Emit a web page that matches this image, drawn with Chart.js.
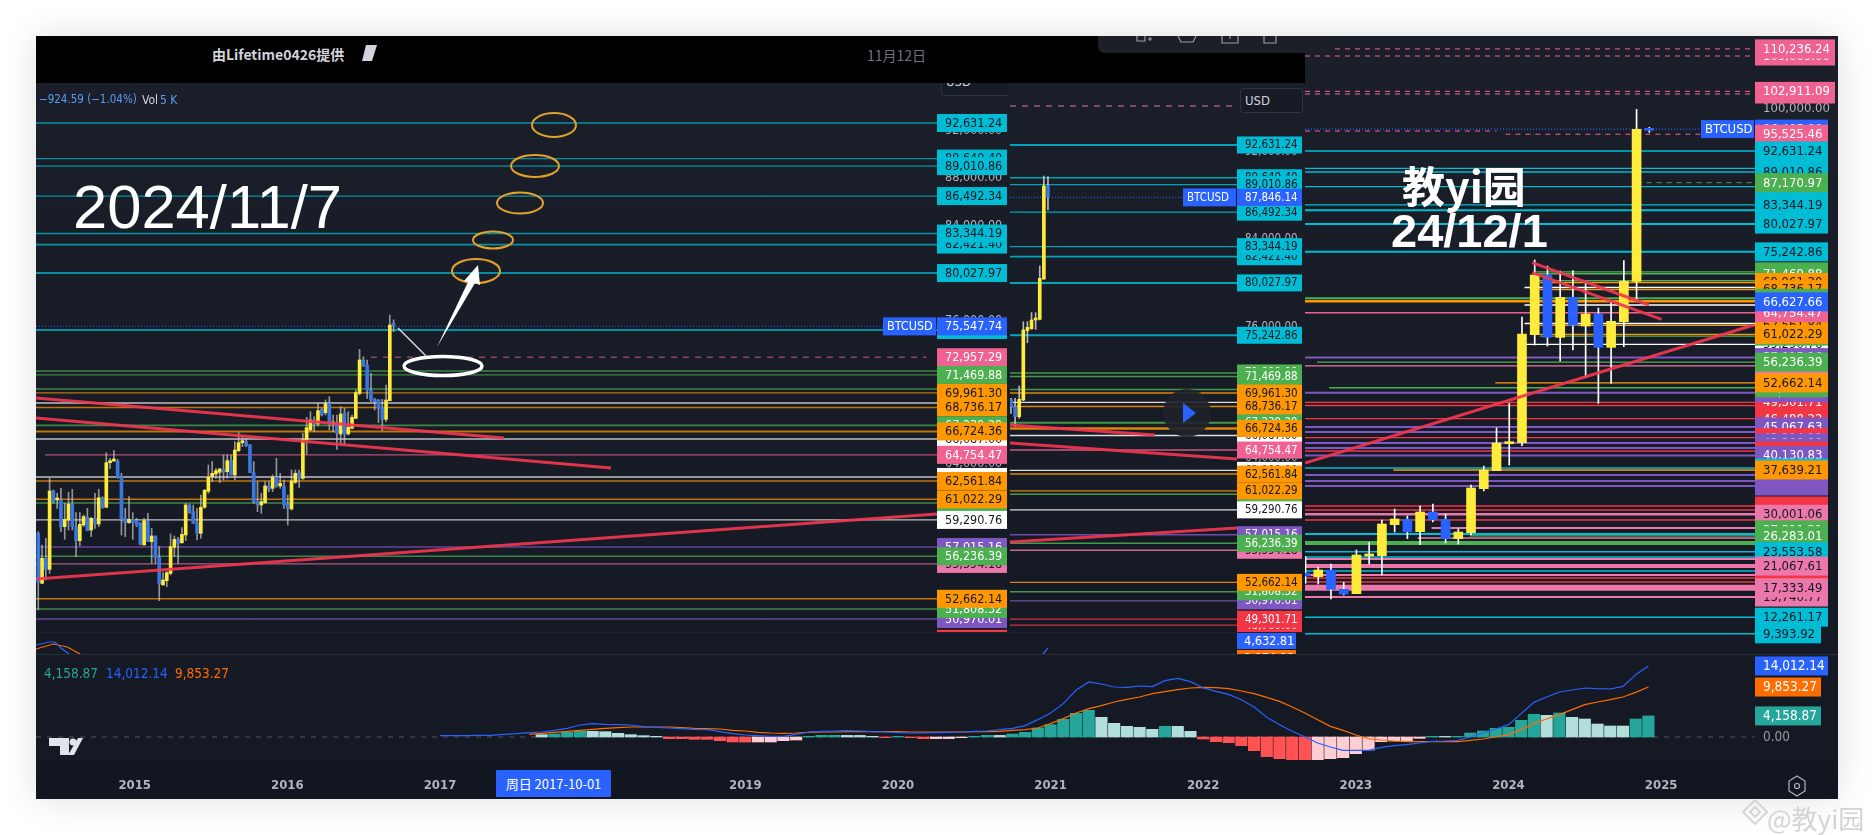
<!DOCTYPE html>
<html lang="en">
<head>
<meta charset="UTF-8">
<title>BTCUSD levels</title>
<style>
    html, body { margin: 0; height: 100%; background: #fff; overflow: hidden; }
    body { font-family: 'DejaVu Sans Condensed', 'DejaVu Sans', sans-serif; }
    .abs { position: absolute; }
    #panel { left: 36px; top: 36px; width: 1802px; height: 763px;
             background: linear-gradient(#1b1f2a, #151924 85%);
             box-shadow: 0 0 34px rgba(0,0,0,.13); }
    #band { left: 36px; top: 36px; width: 1269px; height: 47px; background: #000; }
    #axisband { left: 36px; top: 760px; width: 1802px; height: 39px; background: #121620; }
    #sep1 { left: 36px; top: 654px; width: 1802px; height: 1px; background: #2a2e39; }
    #sep2 { left: 36px; top: 632px; width: 1269px; height: 1px; background: #1f2330; }
    #toolbar { left: 1098px; top: 36px; width: 236px; height: 17px; background: #1c1f26;
               border-radius: 0 0 0 7px; overflow: hidden; }
    canvas { position: absolute; }
    .txt { white-space: nowrap; line-height: 1; }
    .usd { border: 1px solid #2f333e; border-radius: 3px; background: #171b26; color: #d1d4dc;
           font-size: 13px; box-sizing: border-box; overflow: hidden; }
    #strip { left: 1237px; top: 632px; width: 59px; height: 22px; overflow: hidden; }
    #strip div { position: absolute; left: 0; width: 59px; height: 16px; font-size: 12.5px;
                 line-height: 16px; color: #fff; text-indent: 7px; }
    #cross { left: 496px; top: 770px; width: 115px; height: 27px; background: #2962ff; color: #fff;
             font: 13px/27px 'Noto Sans CJK SC', sans-serif; text-align: center; border-radius: 1px; }
</style>
<script src="https://cdn.jsdelivr.net/npm/chart.js"></script>
</head>
<body>
<div id="panel" class="abs"></div>
<div id="band" class="abs"></div>
<div id="axisband" class="abs"></div>

<canvas id="chartA" width="974" height="549" style="left:36px;top:83px"></canvas>
<canvas id="chartB" width="295" height="549" style="left:1010px;top:83px"></canvas>
<canvas id="chartC" width="533" height="618" style="left:1305px;top:36px"></canvas>
<canvas id="chartMacd" width="1802" height="167" style="left:36px;top:632px"></canvas>

<div id="sep1" class="abs"></div>
<div id="sep2" class="abs"></div>

<div class="abs txt" style="left:212px;top:44px;color:#d1d4dc;font:bold 14px 'Noto Sans CJK SC',sans-serif">由Lifetime0426提供</div>
<svg class="abs" style="left:360px;top:42px" width="20" height="20"><polygon points="6,3 17,3 12,19 2,19" fill="#d1d4dc"/></svg>
<div class="abs txt" style="left:867px;top:45px;color:#6f7380;font:14px 'Noto Sans CJK SC',sans-serif">11月12日</div>
<div class="abs txt" style="left:39px;top:94px;font-size:11.5px;color:#5b9cf6">−924.59 (−1.04%)</div>
<div class="abs txt" style="left:142px;top:94px;font-size:12px;color:#d1d4dc">Vol</div>
<div class="abs txt" style="left:160px;top:94px;font-size:12px;color:#5b9cf6">5 K</div>

<div class="abs usd" style="left:941px;top:70px;width:69px;height:26px;clip-path:inset(13px 0 0 0);padding:3px 4px;border-right:0">USD</div>
<div class="abs usd" style="left:1240px;top:88px;width:63px;height:25px;padding:4px">USD</div>

<div class="abs txt" style="left:73px;top:171px;color:#fff;font:61.5px 'Liberation Sans',sans-serif">2024/11/7</div>
<div class="abs txt" style="left:1402px;top:153px;color:#fff;font:bold 43px 'Noto Sans CJK SC',sans-serif">教yi园</div>
<div class="abs txt" style="left:1391px;top:203px;color:#fff;font:bold 47px 'Liberation Sans',sans-serif">24/12/1</div>

<svg class="abs" style="left:0;top:0" width="1874" height="835" fill="none">
    <g stroke="#e2a22a" stroke-width="2">
        <ellipse cx="554" cy="125" rx="22" ry="12"/>
        <ellipse cx="535" cy="166" rx="24" ry="11"/>
        <ellipse cx="520" cy="203" rx="23" ry="10.5"/>
        <ellipse cx="493" cy="240" rx="20" ry="8.5"/>
        <ellipse cx="476" cy="271" rx="24" ry="12"/>
    </g>
    <ellipse cx="443" cy="366" rx="39" ry="9.5" stroke="#fff" stroke-width="3.5"/>
    <polygon points="437,347 468,282 464,281 478,265 480,285 475,283" fill="#fff"/>
    <line x1="398" y1="328" x2="426" y2="356" stroke="#d8d8d8" stroke-width="1.5"/>
    <circle cx="1187" cy="413" r="24" fill="#1f222b" fill-opacity=".9"/>
    <polygon points="1183,403 1196,413 1183,423" fill="#2962ff"/>
    <path d="M49 738h20v17h-9v-9h-11z" fill="#e0e3eb"/>
    <circle cx="73" cy="742" r="3.5" fill="#e0e3eb"/>
    <path d="M78 738h5l-9 17h-6z" fill="#e0e3eb"/>
    <path d="M1797 776l8 5v10l-8 5l-8-5v-10z" stroke="#b2b5be" stroke-width="1.2"/>
    <circle cx="1797" cy="786" r="2.5" stroke="#b2b5be" stroke-width="1.2"/>
    <g stroke="#d4d4d4" stroke-width="1.8">
        <path d="M1743 812l12-12l12 12l-12 12z"/>
        <path d="M1750 812l5-5l5 5l-5 5z"/>
    </g>
</svg>
<div class="abs txt" style="left:1767px;top:799px;color:#d4d4d4;font:26px 'Noto Sans CJK SC',sans-serif">@教yi园</div>

<div id="toolbar" class="abs">
    <svg width="236" height="17" fill="none" stroke="#9a9da6" stroke-width="1.2">
        <path d="M39 0v5h8v-5M50 3h4M52 1v4"/>
        <path d="M80 0l3 6h12l3-6"/>
        <path d="M124 0v7h16v-7M132 0v3"/>
        <path d="M166 0v7h12v-7"/>
    </svg>
</div>

<div id="strip" class="abs">
    <div style="top:1px;background:#2962ff">4,632.81</div>
    <div style="top:18px;background:#ff6d00">9,854.98</div>
</div>

<div class="abs txt" style="left:44px;top:667px;font-size:13.5px;color:#26a69a">4,158.87</div>
<div class="abs txt" style="left:106px;top:667px;font-size:13.5px;color:#2962ff">14,012.14</div>
<div class="abs txt" style="left:175px;top:667px;font-size:13.5px;color:#ff6d00">9,853.27</div>
<div id="cross" class="abs txt">周日 2017-10-01</div>

<script>
// horizontal levels shared by the three price panes
const levelValues = [92631.24, 89640.40, 89010.86, 86492.34, 83344.19, 82421.40, 80027.97, 75242.86,
    71800, 71469.88, 70287, 69961.30, 69111, 68736.17, 67239.29, 66724.36, 66087, 64754.47, 62900,
    62561.84, 61022.29, 60711, 59290.76, 57015.16, 56236.39, 55594.18, 52662.14, 51808.32, 50970.01,
    49301.71, 48760];
const levelKinds = ['cyan', 'cyan', 'cyan', 'cyan', 'cyan', 'cyan', 'cyan', 'cyan',
    'green', 'green', 'green', 'orange', 'white', 'orange', 'green', 'orange', 'white', 'pink', 'white',
    'orange', 'orange', 'green', 'white', 'purple', 'green', 'rose', 'orange', 'green', 'purple',
    'red', 'red'];

// levels only the 2024/12/1 pane reaches
const lowerValues = [46488.22, 45067.63, 44187, 43214.12, 42300, 41428, 40911, 40130.83, 37980, 37639.21,
    36773, 35739, 34877, 31428, 30738, 30001.06, 29015, 27636, 26600, 26283.01, 25912, 25050, 23553.58,
    22637, 22292, 21067.61, 20223, 19533, 19016, 18326, 17333.49, 15740.77, 12261.17, 9393.92];
const lowerKinds = ['red', 'purple', 'purple', 'red', 'purple', 'purple', 'red', 'purple', 'cyan', 'orange',
    'purple', 'purple', 'purple', 'red', 'red', 'rose', 'red', 'rose', 'cyan', 'green', 'rose', 'green', 'cyan',
    'cyan', 'rose', 'rose', 'cyan', 'rose', 'red', 'red', 'rose', 'rose', 'cyan', 'cyan'];

// pane A candles, 2024/11/7 picture
const aOpen = [58163,53963,56063,55139,61719,60963,60963,58723,59283,60627,58723,57547,58863,59507,58443,59423,58947,61159,60347,64099,64239,64239,62923,59423,59059,59339,59227,59059,57183,59143,57463,57939,56147,53823,54187,54803,56987,57659,57379,58023,60543,59983,59059,58163,60347,
    61691,62923,63147,63287,63539,63343,64267,63063,65107,65779,65863,65583,63259,60823,60543,60739,62139,61943,62867,62139,62139,60627,60207,62447,63259,62783,66003,66843,67683,67347,
    68579,68299,69083,67347,67403,66507,68243,66507,66983,67823,69923,72723,72303,70203,69419,69363,68747,67739,69304,75800];
const aClose = [54019,56063,55139,61719,60823,61047,58723,59339,60627,58723,57547,58919,59563,58387,59423,58947,61159,60347,64099,64239,64267,62867,59339,59059,59339,59059,58863,57267,59227,57463,57939,56147,53907,54243,54859,57043,57659,57323,58079,60543,59899,59003,58163,60347,61803,
    62867,63203,63427,63567,63315,64267,63063,65163,65779,65863,65527,63259,60823,60543,60823,62139,61859,62867,62139,62363,60543,60263,62559,63203,62783,66059,67039,67683,67347,68467,
    68103,69083,67403,67403,66563,68187,66507,67067,67907,69979,72723,72219,70203,69363,69223,68663,67739,69363,75663,75547.74];
const aHigh = [58303,57183,57743,62783,61803,61523,61943,60683,61607,61859,59899,59899,59703,60263,59507,61523,61859,61243,64939,64463,65107,64379,63203,60263,61243,59899,59423,59059,59423,59843,58583,57939,57043,54859,54943,58107,57939,57827,58639,60683,60627,60543,60263,61383,61803,
    63903,64183,63623,63623,64743,64743,64743,65863,66619,66339,66143,65639,64183,62503,61523,62503,62503,63063,64463,63203,62643,61383,63483,63483,63483,66563,67907,68383,67963,69083,
    68663,69363,69643,68103,68103,68803,68663,68383,68103,70203,73619,73003,72723,71603,69503,69419,69419,70623,76503,76100];
const aLow = [51723,53963,54243,54803,60683,60263,58303,57659,58443,58443,56203,57127,58723,58387,57883,58583,58723,60263,60347,63623,64183,62783,58023,57883,59003,57659,58723,57183,57183,57463,55643,55643,52507,53823,53683,54663,56203,55643,57323,57547,59843,59003,57603,57743,60263,
    61523,62503,62783,62419,62643,62783,63063,62643,65023,65443,65443,63259,60683,59983,59843,60683,61663,61663,62027,61943,60263,58863,60123,62363,62027,62699,64827,66787,66703,67179,
    68019,68103,66843,66703,65219,65723,65583,66423,66983,67823,69783,72163,69503,69223,68523,67459,66787,67543,69304,75100];

// pane B candles
const bOpen = [69389, 68719, 67805, 69328, 75664, 75847, 76639, 76700, 80385, 88884];
const bClose = [68719, 67805, 69389, 75725, 75968, 76639, 76791, 80446, 88884, 87846.14];
const bHigh = [69481, 69481, 70607, 76486, 76486, 77309, 77309, 81574, 89798, 89736];
const bLow = [68110, 66891, 67653, 69267, 74567, 75786, 75786, 76639, 80355, 86691];

// pane C monthly candles, Sep 2022 to Dec 2024
const cOpen = [19819, 19244, 20393, 17060, 16313, 22807, 22864, 28209, 29129, 27002, 30393, 29129, 25796, 26830, 34416, 37519, 42174, 42347, 60964, 71251, 60503, 67401, 62458, 64527, 58779, 63204, 70159, 96365];
const cClose = [19359, 20393, 17060, 16256, 22980, 22980, 28324, 29186, 27002, 30393, 29071, 25796, 26945, 34531, 37634, 42289, 42404, 61078, 71251, 60503, 67401, 62573, 64527, 58779, 63262, 70159, 96365, 96192];
const cHigh = [22692, 20853, 21428, 18267, 23841, 25163, 29014, 30910, 29703, 31428, 31772, 30048, 27462, 35048, 38324, 44876, 49128, 63990, 73837, 72802, 71940, 71997, 69986, 65561, 66595, 73722, 99813, 96710];
const cLow = [18094, 17979, 15393, 16083, 16313, 21428, 19532, 26945, 25796, 24761, 28669, 25048, 24876, 26428, 34014, 37519, 38496, 41830, 59182, 59009, 56423, 58320, 53549, 49125, 52573, 58895, 66825, 95848];

// red trend lines, [candle index, price] pairs
const aTrends = [[[-0.6, 69531], [123.2, 66171]], [[-0.6, 67851], [151.5, 63651]], [[-0.6, 54327], [237.75, 59787]]];
const bTrends = [[[-0.24, 67047], [35, 66134]], [[-0.24, 65403], [55, 63941]], [[-0.24, 56357], [55, 57636]]];
const cTrends = [[[17.8, 73374], [26.97, 66081]], [[17.8, 71650], [27.97, 63616]], [[-0.04, 38842], [35.2, 62633]]];

// MACD, months counted from Jan 2015
const macdHistStart = 32;
const macdHist = [460,592,920,1118,1118,1052,723,460,263,131,-329,-335,-460,-465,-723,-986,-1000,-985,-985,-723,-592,
    131,329,335,320,315,131,-131,131,-131,-329,-320,-315,-131,131,329,320,592,920,1775,2433,3485,4668,5260,3879,2696,
    2104,1907,1512,2104,2100,1118,-395,-920,-1118,-1710,-2696,-3879,-4274,-4471,-4668,-4471,-4274,-4077,-3288,-2564,
    -920,-789,-780,-263,131,125,130,789,1184,1710,1907,3288,4471,4274,4734,3879,3550,2564,2170,2165,3550,4158.87];
const macdBlueStart = 24;
const macdBlue = [263,263,263,329,329,526,658,855,986,1315,1710,2367,2630,2500,2433,2367,2038,1907,1775,1644,1512,1446,1052,658,395,263,131,131,526,986,1118,1184,1249,1184,1052,986,855,789,789,855,920,986,1118,1184,1446,1710,2236,3419,4734,6575,9205,10849,10454,9863,9797,10060,9928,11112,11572,10915,9665,9008,8416,7364,5918,3879,2433,1118,0,-1184,-1972,-2630,-2630,-2630,-2038,-1710,-1512,-1184,-855,-789,-658,0,789,1578,2433,4603,6838,7890,8876,9271,9665,9534,9468,9994,12295,14012.14];
const macdOrangeStart = 31;
const macdOrange = [526,723,920,1118,1315,1512,1710,1841,1972,1972,1972,1972,1841,1710,1644,1578,1315,1184,920,789,723,789,920,986,986,1052,1052,1052,1052,1052,986,986,986,986,986,1052,1052,1118,1315,1446,1775,2630,3616,4734,5589,6181,6904,7430,7890,8548,8942,9337,9665,9797,9731,9534,9074,8548,7824,7035,5918,4734,3419,2104,1315,395,-329,-592,-789,-920,-920,-920,-920,-920,-658,-395,0,460,1447,2630,3550,4405,5392,6378,6904,7364,7890,8811,9853.27];
// scraps of a second MACD that stick out above the separator, [month, value]
const macdScraps = [
    { color: 'blue', points: [[-7.76, 18146], [-6.74, 18738], [-6.27, 18738], [-5.8, 17554], [-5.16, 16370]] },
    { color: 'orange', points: [[-7.76, 17357], [-6.4, 18343], [-5.3, 17751], [-4.3, 16370]] },
    { color: 'blue', points: [[71.4, 16370], [71.8, 17554]] }
];
const yearLabels = [2015, 2016, 2017, 2018, 2019, 2020, 2021, 2022, 2023, 2024, 2025];
const yearMonths = [0, 12, 24, 36, 48, 60, 72, 84, 96, 108, 120];

// axis ticks and price tags, back to front
const aTicks = [92000, 88000, 84000, 76000, 64000];
const bTicks = [92000, 88000, 84000, 76000, 64000];
const cTicks = [100000];
const aTags = [89640.40, 92631.24, 89010.86, 86492.34, 82421.40, 83344.19, 80027.97, 75242.86, 75547.74, 71800, 72957.29, 71469.88, 69961.30, 68736.17, 67239.29, 66087, 66724.36, 64754.47, 62900, 60711, 62561.84, 61022.29, 59290.76, 57015.16, 55594.18, 56236.39, 50970.01, 51808.32, 52662.14, 49301.71];
const bTags = [89640.40, 92631.24, 89010.86, 86492.34, 87846.14, 82421.40, 83344.19, 80027.97, 75242.86, 71800, 71469.88, 69961.30, 68736.17, 67239.29, 66087, 66724.36, 64754.47, 62900, 60711, 62561.84, 61022.29, 59290.76, 57015.16, 55594.18, 56236.39, 50970.01, 51808.32, 52662.14, 48760, 49301.71];
const cTags = [109009, 110236.24, 102458, 102911.09, 96405, 95525.46, 89640.40, 92631.24, 89010.86, 86492.34, 87170.97, 82421.40, 83344.19, 80027.97, 75242.86,
    71800, 71469.88, 69961.30, 68736.17, 67239.29, 59290.76, 60711, 62900, 62561.84, 64754.47, 61022.29, 66627.66, 57015.16, 55594.18, 56236.39,
    48760, 49301.71, 50970.01, 51808.32, 52662.14, 46488.22, 44187, 45067.63, 43214.12, 42300, 41428, 40911, 40130.83,
    36773, 35739, 34877, 37980, 37639.21, 31428, 30738, 29015, 30001.06, 25912, 27311.21, 26283.01,
    22637, 22292, 23553.58, 20223, 19533, 19016, 18326, 21067.61, 15740.77, 17333.49, 9393.92, 12261.17];
// tags whose figures are buried in the reference stack
const blankTags = [36773, 35739, 34877, 20223, 19533, 19016, 18326];
const extraKinds = { 75547.74: 'blue', 87846.14: 'blue', 96405: 'blue', 66627.66: 'blue', 27311.21: 'green',
    72957.29: 'pink', 110236.24: 'pink', 109009: 'pink', 102911.09: 'pink', 102458: 'pink', 95525.46: 'pink', 87170.97: 'green' };

const palette = { cyan: '#00bcd4', green: '#4caf50', orange: '#ff9800', white: '#ffffff', pink: '#f06292',
    rose: '#ec77ab', purple: '#7e57c2', red: '#f23645', blue: '#2962ff', teal: '#26a69a', deep: '#ff6d00' };
const darkText = ['cyan', 'orange', 'white', 'rose'];
const tagFamily = "'DejaVu Sans Condensed','DejaVu Sans',sans-serif";

const money = v => v.toLocaleString('en-US', { minimumFractionDigits: 2, maximumFractionDigits: 2 });
const allKinds = {};
levelValues.forEach((v, i) => { allKinds[v] = levelKinds[i]; });
lowerValues.forEach((v, i) => { allKinds[v] = lowerKinds[i]; });
Object.assign(allKinds, extraKinds);

function rgba(hex, alpha) {
    const n = parseInt(hex.slice(1), 16);
    return `rgba(${n >> 16},${(n >> 8) & 255},${n & 255},${alpha})`;
}

function flatLine(value, color, from, to, width, dash) {
    return { type: 'line', data: [{ x: from, y: value }, { x: to, y: value }], borderColor: color, borderWidth: width,
        borderDash: dash || [], pointRadius: 0, order: 3 };
}

function trendLines(list, width) {
    return list.map(t => ({ type: 'line', data: t.map(p => ({ x: p[0], y: p[1] })), borderColor: 'rgba(242,54,80,.92)',
        borderWidth: width, pointRadius: 0, order: 0 }));
}

function candles(open, high, low, close, up, down, bodyW, wick, wickW) {
    return [
        { type: 'bar', grouped: false, order: 2, barThickness: wickW, backgroundColor: wick,
          data: high.map((h, i) => ({ x: i, y: [low[i], h] })) },
        { type: 'bar', grouped: false, order: 1, barThickness: bodyW, minBarLength: 2,
          backgroundColor: close.map((c, i) => c >= open[i] ? up : down),
          data: close.map((c, i) => ({ x: i, y: [open[i], c] })) }
    ];
}

// paints price tags and the symbol flag on top of a pane
function tagPlugin(tags, tagW, tagH, fontSize, flag) {
    return {
        id: 'priceTags',
        afterDraw(chart) {
            const ctx = chart.ctx, yScale = chart.scales.y, left = chart.chartArea.right;
            ctx.save();
            ctx.font = fontSize + 'px ' + tagFamily;
            ctx.textBaseline = 'middle';
            tags.forEach(v => {
                const kind = allKinds[v], y = yScale.getPixelForValue(v);
                const w = v < 10000 ? tagW - 7 : (v >= 100000 ? tagW + 7 : tagW);
                ctx.fillStyle = palette[kind];
                ctx.fillRect(left, y - tagH / 2, w, tagH);
                if (!blankTags.includes(v)) {
                    ctx.fillStyle = darkText.includes(kind) ? '#131722' : '#ffffff';
                    ctx.fillText(money(v), left + 8, y + 0.5);
                }
            });
            if (flag) {
                const y = yScale.getPixelForValue(flag);
                ctx.fillStyle = palette.blue;
                ctx.fillRect(left - 54, y - 9, 53, 18);
                ctx.fillStyle = '#ffffff';
                ctx.fillText('BTCUSD', left - 50, y + 0.5);
            }
            ctx.restore();
        }
    };
}

function pane(id, xRange, yRange, axisW, ticks, fontSize, datasets, plugin) {
    new Chart(document.getElementById(id), {
        type: 'bar',
        data: { datasets },
        plugins: [plugin],
        options: {
            responsive: false,
            animation: false,
            layout: { padding: 0 },
            plugins: { legend: { display: false }, tooltip: { enabled: false } },
            scales: {
                x: { type: 'linear', display: false, offset: false, min: xRange[0], max: xRange[1] },
                y: {
                    type: 'linear', position: 'right', min: yRange[0], max: yRange[1],
                    grid: { display: false, drawTicks: false }, border: { display: false },
                    afterBuildTicks: axis => { axis.ticks = ticks.map(value => ({ value })); },
                    afterFit: axis => { axis.width = axisW; axis.paddingTop = 0; axis.paddingBottom = 0; },
                    ticks: { color: '#b2b5be', padding: 8, autoSkip: false, callback: money,
                        font: { family: tagFamily, size: fontSize } }
                }
            }
        }
    });
}

function levelSet(values, kinds, xFrom, xTo, alpha, widths, starts) {
    return values.map((v, i) => flatLine(v, rgba(palette[kinds[i]], alpha), starts[v] !== undefined ? starts[v] : xFrom, xTo, widths[v] || 1.4));
}

// pane A
const aX = [-0.6, 237.75];
pane('chartA', aX, [49875, 95991], 73, aTicks, 12.5, [
    ...levelSet(levelValues.slice(0, 30), levelKinds, aX[0], aX[1], 0.72,
        { 80027.97: 2, 75242.86: 2, 82421.40: 1.8, 66724.36: 2, 67239.29: 1.8 }, { 64754.47: 1.8 }),
    flatLine(72957.29, rgba(palette.pink, 0.6), 88, 235, 1.4, [6, 6]),
    flatLine(75547.74, rgba(palette.blue, 0.7), aX[0], aX[1], 1.2, [1, 2]),
    ...candles(aOpen, aHigh, aLow, aClose, '#ffeb3b', '#3a78e0', 3, 'rgba(200,200,200,.7)', 1),
    ...trendLines(aTrends, 3)
], tagPlugin(aTags, 70, 18, 12.5, 75547.74));

// pane B
const bX = [-0.24, 55];
pane('chartB', bX, [48128, 98296], 68, bTicks, 11.5, [
    ...levelSet(levelValues, levelKinds, bX[0], bX[1], 0.85,
        { 80027.97: 2, 75242.86: 2, 82421.40: 1.8, 66724.36: 2.4, 67239.29: 2, 92631.24: 1.8 }, {}),
    flatLine(96194, rgba(palette.pink, 0.9), bX[0], bX[1], 1.2, [6, 6]),
    flatLine(87846.14, rgba(palette.blue, 0.9), bX[0], bX[1], 1.2, [1, 2]),
    ...candles(bOpen, bHigh, bLow, bClose, '#ffeb3b', '#3a78e0', 3, 'rgba(210,210,210,.85)', 1),
    ...trendLines(bTrends, 3)
], tagPlugin(bTags, 65, 17, 11.5, 87846.14));

// pane C
const cX = [-0.04, 35.3];
const cStarts = { 56236.39: 0.9, 52662.14: 14.9, 51808.32: 1.85, 37639.21: 6.9, 27636: 9.9, 26283.01: 12.9, 25912: 8.8,
    71800: 18, 71469.88: 18, 70287: 18, 69961.30: 18.4, 69111: 17.2, 68736.17: 18.4, 66087: 17.2, 62900: 17.2,
    62561.84: 18.4, 61022.29: 18.4, 60711: 18.4, 59290.76: 17.2 };
const cWidths = { 80027.97: 2, 75242.86: 2, 82421.40: 2, 67239.29: 2, 66724.36: 2.4, 57015.16: 2, 50970.01: 2, 45067.63: 2, 44187: 2,
    42300: 2, 41428: 2, 40130.83: 2, 36773: 2, 35739: 2, 34877: 2, 30001.06: 2.4, 27636: 2, 26600: 2, 25050: 4,
    22292: 2, 21067.61: 4, 19533: 2, 17333.49: 6, 15740.77: 2 };
pane('chartC', cX, [5913, 112457], 83, cTicks, 13, [
    ...levelSet(levelValues, levelKinds, cX[0], cX[1], 1, cWidths, cStarts),
    ...levelSet(lowerValues, lowerKinds, cX[0], cX[1], 1, cWidths, cStarts),
    flatLine(110236.24, palette.pink, cX[0], cX[1], 1, [5, 5]),
    flatLine(109009, palette.pink, cX[0], cX[1], 1, [5, 5]),
    flatLine(102911.09, palette.pink, cX[0], cX[1], 1, [5, 5]),
    flatLine(102458, palette.pink, cX[0], cX[1], 1, [5, 5]),
    flatLine(96079, palette.pink, cX[0], 15, 1, [5, 5]),
    flatLine(95525.46, palette.pink, 15.7, cX[1], 1, [5, 5]),
    flatLine(96405, palette.blue, cX[0], cX[1], 1.2, [1, 2]),
    flatLine(87170.97, rgba(palette.green, 0.9), 26, cX[1], 1, [5, 5]),
    ...candles(cOpen, cHigh, cLow, cClose, '#ffeb3b', '#2962ff', 9, '#ffffff', 1),
    ...trendLines(cTrends, 3)
], tagPlugin(cTags, 73, 19, 13, 96405));

// MACD pane
const histColor = macdHist.map((v, i) => {
    const prev = i ? macdHist[i - 1] : v;
    if (v >= 0) return v > prev ? '#26a69a' : '#b2dfdb';
    return v < prev ? '#ff5252' : '#ffcdd2';
});
const macdX = [-7.76, 127.38];
const macdPlugin = {
    id: 'macdTags',
    afterDraw(chart) {
        const ctx = chart.ctx, y = chart.scales.y, left = chart.chartArea.right;
        ctx.save();
        ctx.font = '13.5px ' + tagFamily;
        ctx.textBaseline = 'middle';
        [[14012.14, palette.blue, 73], [9853.27, palette.deep, 66], [4158.87, palette.teal, 66]].forEach(t => {
            const py = y.getPixelForValue(t[0]);
            ctx.fillStyle = t[1];
            ctx.fillRect(left, py - 9.5, t[2], 19);
            ctx.fillStyle = '#ffffff';
            ctx.fillText(money(t[0]), left + 8, py + 0.5);
        });
        ctx.fillStyle = '#9598a1';
        ctx.fillText('0.00', left + 8, y.getPixelForValue(0) + 0.5);
        ctx.restore();
    }
};
new Chart(document.getElementById('chartMacd'), {
    type: 'bar',
    plugins: [macdPlugin],
    data: {
        datasets: [
            flatLine(0, 'rgba(120,123,134,.6)', macdX[0], macdX[1], 1, [5, 6]),
            { type: 'bar', order: 2, grouped: false, barThickness: 11.5, backgroundColor: histColor,
              data: macdHist.map((v, i) => ({ x: macdHistStart + i, y: v })) },
            { type: 'line', order: 1, borderColor: '#ff6d00', borderWidth: 1.2, pointRadius: 0,
              data: macdOrange.map((v, i) => ({ x: macdOrangeStart + i, y: v })) },
            { type: 'line', order: 0, borderColor: '#2962ff', borderWidth: 1.2, pointRadius: 0,
              data: macdBlue.map((v, i) => ({ x: macdBlueStart + i, y: v })) },
            ...macdScraps.map(s => ({ type: 'line', order: 0, pointRadius: 0, borderWidth: 1.2,
                borderColor: s.color === 'blue' ? '#2962ff' : '#ff6d00',
                data: s.points.map(p => ({ x: p[0], y: p[1] })) }))
        ]
    },
    options: {
        responsive: false,
        animation: false,
        layout: { padding: { right: 83 } },
        plugins: { legend: { display: false }, tooltip: { enabled: false } },
        scales: {
            x: {
                type: 'linear', offset: false, min: macdX[0], max: macdX[1],
                grid: { display: false }, border: { display: false },
                afterBuildTicks: axis => { axis.ticks = yearMonths.map(value => ({ value })); },
                afterFit: axis => { axis.height = 39; axis.paddingLeft = 0; axis.paddingRight = 0; },
                ticks: { color: '#b2b5be', padding: 10, maxRotation: 0, autoSkip: false,
                    font: { family: tagFamily, size: 13, weight: 'bold' },
                    callback: v => yearLabels[yearMonths.indexOf(v)] }
            },
            y: { display: false, min: -4536, max: 20710 }
        }
    }
});
</script>
</body>
</html>
